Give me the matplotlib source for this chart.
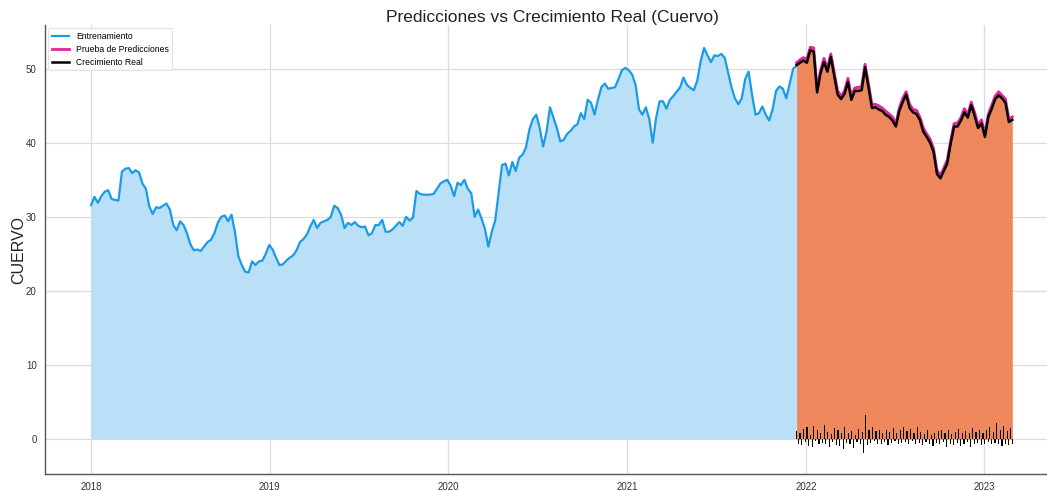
import matplotlib
matplotlib.use("Agg")
import matplotlib.pyplot as plt
import numpy as np
import pandas as pd

# weekly readings of the training series (2018-01-01 onwards)
train_vals = [
    31.6, 32.7, 31.9, 32.8, 33.4, 33.6, 32.4, 32.3, 32.2, 36.1,
    36.5, 36.6, 35.9, 36.3, 36.0, 34.5, 33.8, 31.4, 30.4, 31.3,
    31.2, 31.5, 31.8, 31.0, 28.9, 28.2, 29.4, 28.9, 27.8, 26.3,
    25.5, 25.6, 25.4, 26.0, 26.6, 26.9, 27.8, 29.2, 30.0, 30.2,
    29.4, 30.3, 28.0, 24.7, 23.5, 22.6, 22.5, 24.0, 23.5, 24.0,
    24.1, 25.0, 26.2, 25.6, 24.5, 23.5, 23.6, 24.1, 24.5, 24.8,
    25.5, 26.6, 27.0, 27.6, 28.7, 29.6, 28.5, 29.2, 29.4, 29.6,
    30.0, 31.5, 31.2, 30.3, 28.5, 29.2, 28.9, 29.3, 28.8, 28.6,
    28.7, 27.5, 27.8, 28.9, 28.9, 29.6, 28.0, 28.0, 28.3, 28.8,
    29.3, 28.8, 30.0, 29.5, 29.9, 33.5, 33.1, 33.0, 33.0, 33.0,
    33.1, 33.8, 34.5, 34.8, 35.0, 34.2, 32.8, 34.6,
    34.3, 35.0, 33.8, 33.2, 30.0, 31.0, 29.8, 28.4, 26.0, 28.0,
    29.5, 33.2, 37.0, 37.2, 35.6, 37.4, 36.2, 38.0, 38.4, 39.4,
    41.8, 43.2, 43.8, 42.0, 39.5, 41.5, 44.8, 43.4, 42.0, 40.2,
    40.4, 41.2, 41.6, 42.2, 42.5, 44.0, 43.2, 45.8, 45.4, 43.8,
    45.8, 47.5, 48.0, 47.3, 47.4, 47.5, 48.6, 49.8, 50.1, 49.8,
    49.2, 47.8, 44.5, 43.8, 44.8, 43.2, 40.0, 43.4, 45.6, 45.6,
    44.6, 45.8, 46.3, 46.9, 47.5, 48.8, 47.8, 47.4, 47.1, 48.4,
    51.0, 52.8, 51.8, 50.9, 51.8, 51.7, 52.0, 51.5, 49.5, 47.5,
    46.0, 45.2, 46.0, 48.6, 49.6, 46.5, 43.8, 44.0, 44.9, 43.8,
    43.0, 44.5, 47.0, 47.6, 47.3, 46.0, 48.0, 50.0, 50.4,
]

# test period: real values and predictions (weekly)
real_vals = [
    50.5, 50.8, 51.1, 50.8, 52.5, 52.3, 46.8, 49.4, 50.9, 49.6,
    51.6, 49.0, 46.5, 45.9, 46.6, 48.2, 45.8, 47.0, 47.0, 47.1,
    50.2, 47.5, 44.7, 44.8, 44.5, 44.3, 43.8, 43.5, 43.0, 42.2,
    44.3, 45.5, 46.5, 44.7, 44.1, 43.9, 43.1, 41.5, 40.8, 40.0,
    38.8, 35.8, 35.2, 36.2, 37.2, 39.9, 42.2, 42.2, 43.0, 44.1,
    43.4, 45.1, 43.6, 42.0, 42.6, 40.8, 43.5, 44.6, 45.9, 46.4,
    46.0, 45.4, 42.8, 43.1,
]
pred_vals = [
    50.8, 51.2, 51.5, 51.3, 52.9, 52.8, 47.3, 49.8, 51.4, 50.1,
    52.0, 49.5, 47.0, 46.3, 47.0, 48.7, 46.3, 47.4, 47.5, 47.6,
    50.6, 48.0, 45.2, 45.2, 45.0, 44.7, 44.3, 43.9, 43.5, 42.6,
    44.7, 46.0, 46.9, 45.2, 44.5, 44.4, 43.5, 42.0, 41.2, 40.5,
    39.2, 36.3, 35.6, 36.6, 37.7, 40.3, 42.6, 42.7, 43.4, 44.6,
    43.8, 45.5, 44.1, 42.4, 43.1, 41.2, 43.9, 45.1, 46.3, 46.9,
    46.4, 45.9, 43.2, 43.5,
]

# residual bars along the bottom of the test period
resid_vals = [
    1.1, -0.6, 0.9, -0.8, 1.4, -0.4, 1.7, -0.9, 0.6, -1.0, 1.8, -0.3, 1.2, -0.7, 0.8, -0.5,
    1.9, -0.6, 1.0, -1.1, 0.7, -0.4, 1.5, -0.8, 1.3, -0.9, 0.9, -1.3, 1.6, -0.5, 0.8, -0.7,
    1.1, -1.2, 0.6, -0.4, 1.4, -0.6, 1.0, -1.9, 3.3, -0.8, 1.2, -0.5, 1.6, -0.3, 1.1, -0.7,
    1.3, -0.6, 0.9, -0.4, 1.2, -0.8, 1.0, -0.5, 1.5, -0.3, 0.8, -0.6, 1.3, -0.5, 1.7, -0.4,
    1.1, -0.7, 1.4, -0.3, 0.9, -0.6, 1.6, -0.5, 1.0, -0.8, 0.7, -0.4, 1.2, -0.6, 0.6, -0.9,
    0.8, -0.5, 1.1, -0.7, 1.3, -0.4, 0.9, -1.0, 1.2, -0.6, 0.7, -0.8, 1.0, -0.5, 1.4, -0.9,
    0.8, -0.6, 1.1, -0.4, 0.9, -1.0, 1.5, -0.7, 1.0, -0.5, 1.3, -0.8, 0.8, -0.6, 1.2, -0.4,
    1.6, -0.7, 1.0, -0.5, 2.2, -0.6, 1.3, -0.9, 1.8, -0.7, 1.1, -0.8, 1.5, -0.6,
]

train_dates = pd.date_range("2018-01-01", periods=len(train_vals), freq="7D")
test_dates = pd.date_range(train_dates[-1], periods=len(real_vals), freq="7D")
resid_dates = pd.date_range(test_dates[0], test_dates[-1], periods=len(resid_vals))

plt.rcParams['font.family'] = ['Liberation Sans', 'DejaVu Sans']

fig = plt.figure(figsize=(10.47, 4.91), dpi=100)
ax = fig.add_axes([45 / 1047, 17 / 491, 1014 / 1047, 449 / 491])

# training
ax.fill_between(train_dates, 0, train_vals, color="#b9e0f7", linewidth=0)
l1, = ax.plot(train_dates, train_vals, color="#1a9be8", linewidth=1.6, label="Entrenamiento")

# test
ax.fill_between(test_dates, 0, pred_vals, color="#ef875c", linewidth=0)
l2, = ax.plot(test_dates, pred_vals, color="#e0259e", linewidth=2.0, label="Prueba de Predicciones")
l3, = ax.plot(test_dates, real_vals, color="black", linewidth=1.8, label="Crecimiento Real")
ax.bar(resid_dates, resid_vals, width=2.4, color="black", linewidth=0)

ax.set_ylim(-4.7, 55.9)
ax.set_yticks([0, 10, 20, 30, 40, 50])
ax.set_xticks(pd.to_datetime(["2018-01-01", "2019-01-01", "2020-01-01",
                              "2021-01-01", "2022-01-01", "2023-01-01"]))
ax.set_xticklabels(["2018", "2019", "2020", "2021", "2022", "2023"])

ax.grid(True, color="#dddddd", linewidth=0.9)
ax.set_axisbelow(True)
for s in ["top", "right"]:
    ax.spines[s].set_visible(False)
for s in ["left", "bottom"]:
    ax.spines[s].set_color("#555555")
    ax.spines[s].set_linewidth(1.0)
ax.tick_params(axis="both", length=0, labelsize=7, colors="#333333", pad=6)

ax.set_ylabel("CUERVO", fontsize=11.5, color="#222222", labelpad=0)
ax.set_title("Predicciones vs Crecimiento Real (Cuervo)", fontsize=12.5, color="#222222", pad=2.5)

leg = ax.legend(handles=[l1, l2, l3], loc="upper left", fontsize=6.2, frameon=True,
                borderaxespad=0.4, handlelength=2.0, labelspacing=0.45)
leg.get_frame().set_edgecolor("#dddddd")
leg.get_frame().set_linewidth(0.8)

fig.savefig("out.png", dpi=100)
